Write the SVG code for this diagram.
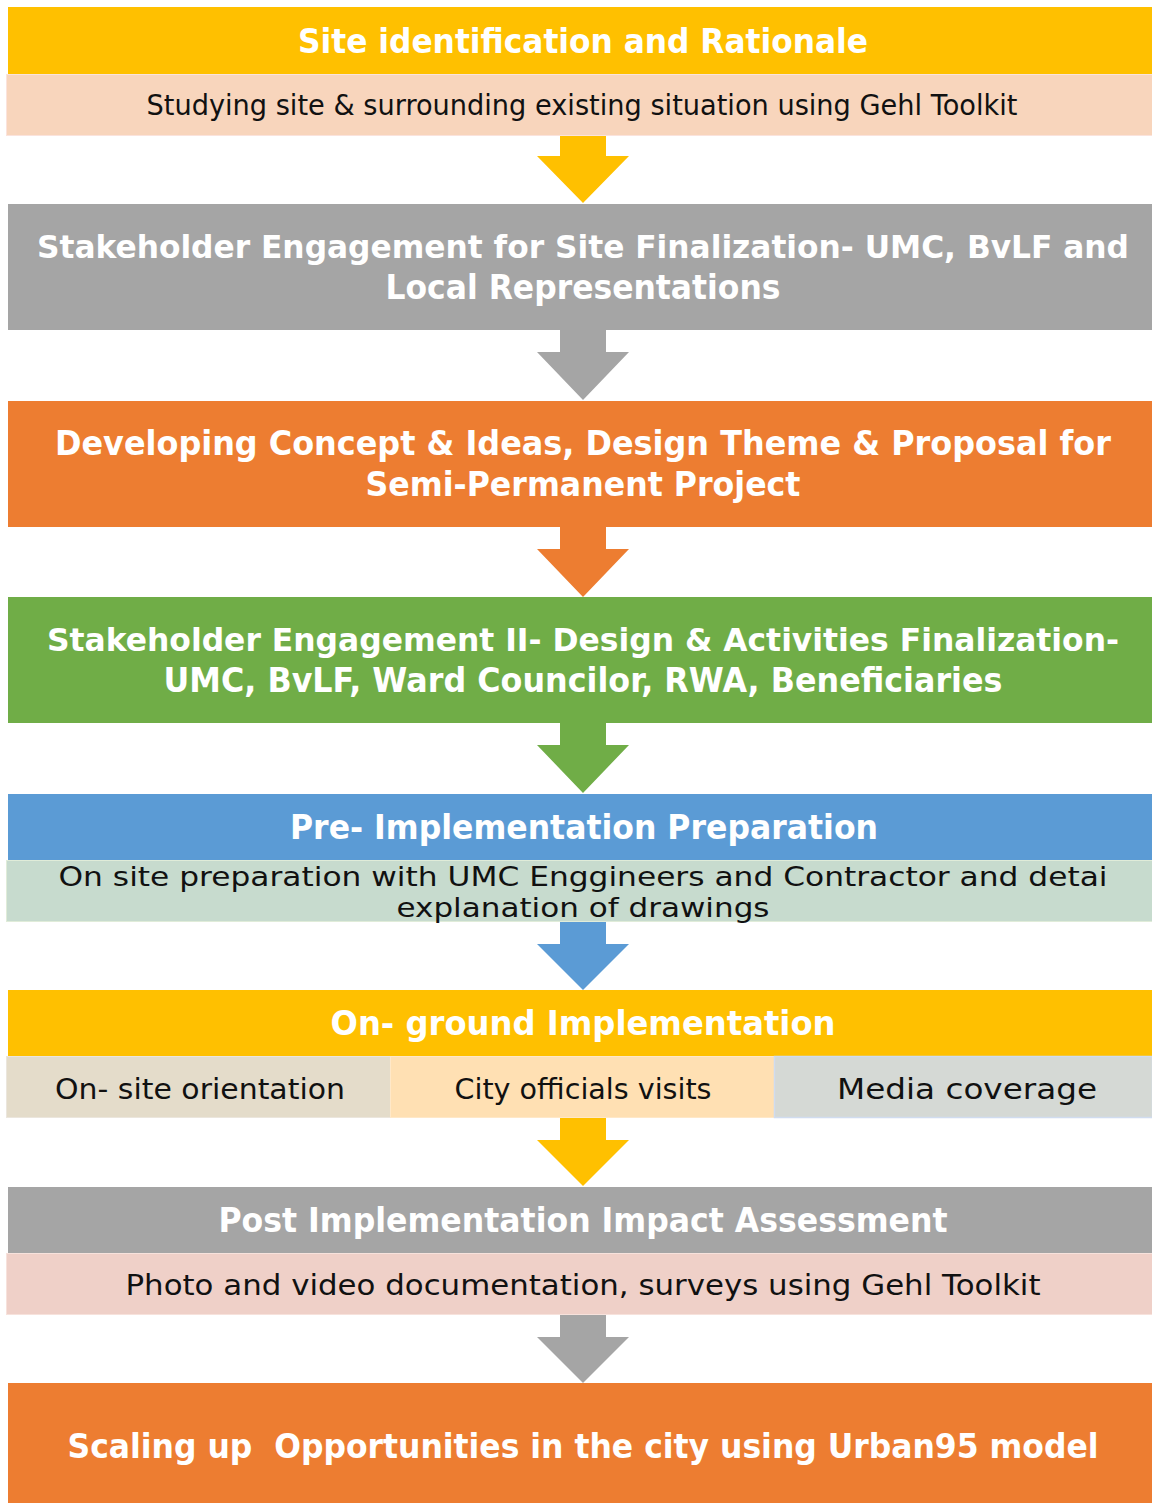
<svg xmlns="http://www.w3.org/2000/svg" width="1152" height="1503" viewBox="0 0 1152 1503">
  <style>
    .hd { font-family: "DejaVu Sans", "Liberation Sans", sans-serif; font-weight: bold; font-size: 33px; fill: #ffffff; text-anchor: middle; }
    .long { font-family: "DejaVu Sans Condensed", "DejaVu Sans", sans-serif; font-size: 32px; }
    .sb { font-family: "DejaVu Sans", "Liberation Sans", sans-serif; font-size: 29px; fill: #111111; text-anchor: middle; }
    .sb2 { font-size: 27px; }
    .yellow { fill: #FFC000; }
    .gray { fill: #A5A5A5; }
    .orange { fill: #ED7D31; }
    .green { fill: #70AD47; }
    .blue { fill: #5B9BD5; }
  </style>
  <rect width="1152" height="1503" fill="#ffffff"/>

  <!-- block arrows: stem 46 wide, head 92 wide -->
  <g id="connectors">
    <path class="yellow" d="M560,136 H606 V156 H629 L583,203 L537,156 H560 Z"/>
    <path class="gray" d="M560,330 H606 V352 H629 L583,400 L537,352 H560 Z"/>
    <path class="orange" d="M560,527 H606 V549 H629 L583,597 L537,549 H560 Z"/>
    <path class="green" d="M560,723 H606 V745 H629 L583,793 L537,745 H560 Z"/>
    <path class="blue" d="M560,922 H606 V944 H629 L583,990 L537,944 H560 Z"/>
    <path class="yellow" d="M560,1118 H606 V1140 H629 L583,1186 L537,1140 H560 Z"/>
    <path class="gray" d="M560,1315 H606 V1337 H629 L583,1383 L537,1337 H560 Z"/>
  </g>

  <g id="site-identification">
    <rect class="yellow" x="8" y="7" width="1144" height="67"/>
    <text class="hd" x="583" y="53" textLength="570" lengthAdjust="spacingAndGlyphs">Site identification and Rationale</text>
    <rect x="6.5" y="74.5" width="1146" height="61" fill="#F8D5BC" stroke="#FBE3DC" stroke-width="1"/>
    <text class="sb" x="582" y="115" textLength="871" lengthAdjust="spacingAndGlyphs">Studying site &amp; surrounding existing situation using Gehl Toolkit</text>
  </g>

  <g id="stakeholder-engagement-1">
    <rect class="gray" x="8" y="204" width="1144" height="126"/>
    <text class="hd long" x="583" y="258" textLength="1092" lengthAdjust="spacingAndGlyphs">Stakeholder Engagement for Site Finalization- UMC, BvLF and</text>
    <text class="hd" x="583" y="299" textLength="395" lengthAdjust="spacingAndGlyphs">Local Representations</text>
  </g>

  <g id="concept-development">
    <rect class="orange" x="8" y="401" width="1144" height="126"/>
    <text class="hd" x="583" y="455" textLength="1056" lengthAdjust="spacingAndGlyphs">Developing Concept &amp; Ideas, Design Theme &amp; Proposal for</text>
    <text class="hd" x="583" y="496" textLength="435" lengthAdjust="spacingAndGlyphs">Semi-Permanent Project</text>
  </g>

  <g id="stakeholder-engagement-2">
    <rect class="green" x="8" y="597" width="1144" height="126"/>
    <text class="hd long" x="583" y="651" textLength="1072" lengthAdjust="spacingAndGlyphs">Stakeholder Engagement II- Design &amp; Activities Finalization-</text>
    <text class="hd" x="583" y="692" textLength="839" lengthAdjust="spacingAndGlyphs">UMC, BvLF, Ward Councilor, RWA, Beneficiaries</text>
  </g>

  <g id="pre-implementation">
    <rect class="blue" x="8" y="794" width="1144" height="66"/>
    <text class="hd" x="584" y="839" textLength="588" lengthAdjust="spacingAndGlyphs">Pre- Implementation Preparation</text>
    <rect x="6.5" y="860.5" width="1146" height="61" fill="#C7DBCE" stroke="#E0ECD9" stroke-width="1"/>
    <text class="sb sb2" x="583" y="886" textLength="1049" lengthAdjust="spacingAndGlyphs">On site preparation with UMC Enggineers and Contractor and detai</text>
    <text class="sb sb2" x="583" y="917" textLength="373" lengthAdjust="spacingAndGlyphs">explanation of drawings</text>
  </g>

  <g id="on-ground-implementation">
    <rect class="yellow" x="8" y="990" width="1144" height="66"/>
    <text class="hd" x="583" y="1035" textLength="505" lengthAdjust="spacingAndGlyphs">On- ground Implementation</text>
    <rect x="6.5" y="1056.5" width="384" height="61" fill="#E4DCCA" stroke="#EBE6DD" stroke-width="1"/>
    <text class="sb" x="200" y="1099" textLength="290" lengthAdjust="spacingAndGlyphs">On- site orientation</text>
    <rect x="390.5" y="1056.5" width="384" height="61" fill="#FFE0B3" stroke="#FFE8C8" stroke-width="1"/>
    <text class="sb" x="583" y="1099" textLength="257" lengthAdjust="spacingAndGlyphs">City officials visits</text>
    <rect x="774.5" y="1056.5" width="378" height="61" fill="#D5D9D5" stroke="#D0DCEF" stroke-width="1.5"/>
    <text class="sb" x="967" y="1099" textLength="260" lengthAdjust="spacingAndGlyphs">Media coverage</text>
  </g>

  <g id="impact-assessment">
    <rect class="gray" x="8" y="1187" width="1144" height="66"/>
    <text class="hd" x="583" y="1232" textLength="729" lengthAdjust="spacingAndGlyphs">Post Implementation Impact Assessment</text>
    <rect x="6.5" y="1253.5" width="1146" height="61" fill="#EFD0C8" stroke="#F7E2DC" stroke-width="1"/>
    <text class="sb" x="583" y="1295" textLength="915" lengthAdjust="spacingAndGlyphs">Photo and video documentation, surveys using Gehl Toolkit</text>
  </g>

  <g id="scaling-up">
    <rect class="orange" x="8" y="1383" width="1144" height="120"/>
    <text class="hd" x="583" y="1458" textLength="1031" lengthAdjust="spacingAndGlyphs" xml:space="preserve">Scaling up  Opportunities in the city using Urban95 model</text>
  </g>
</svg>
